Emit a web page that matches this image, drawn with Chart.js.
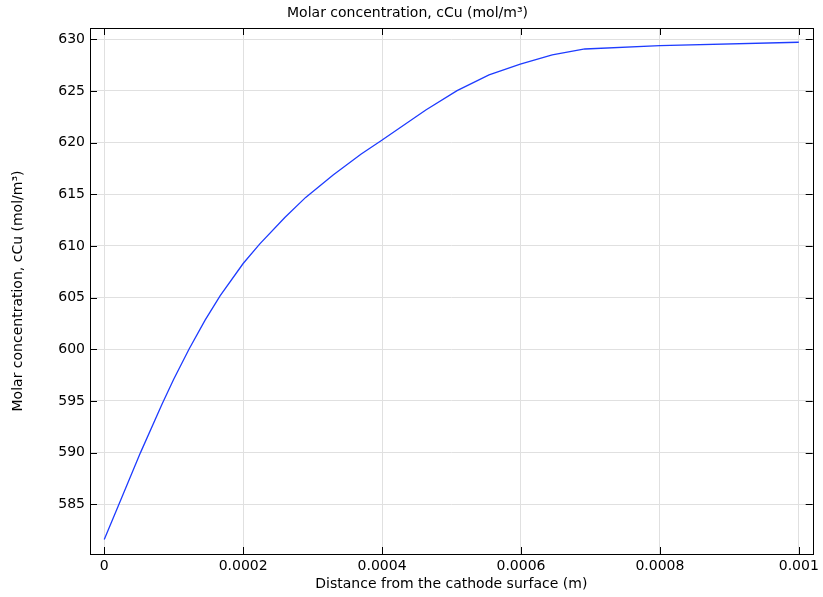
<!DOCTYPE html>
<html>
<head>
<meta charset="utf-8">
<script src="https://cdn.jsdelivr.net/npm/chart.js@4/dist/chart.umd.min.js"></script>
<style>
  html, body { margin: 0; padding: 0; background: #fff; }
</style>
</head>
<body>
<canvas id="chart" width="823" height="597"></canvas>
<script>
Chart.defaults.font.family = "'DejaVu Sans', sans-serif";
Chart.defaults.font.size = 14;
Chart.defaults.color = '#000';

// distance from cathode (m) and copper concentration (mol/m3)
const distance = [0, 0.00002, 0.0000522, 0.0000833, 0.0001, 0.000122, 0.000145, 0.000167, 0.0002, 0.000224,
    0.00026, 0.00029, 0.00033, 0.00037, 0.000398, 0.000463, 0.000508, 0.000554, 0.000599, 0.000645,
    0.000692, 0.0008, 0.001];
const concentration = [581.6, 584.8, 590, 594.7, 597.1, 600, 602.8, 605.2, 608.3, 610.2,
    612.75, 614.7, 616.9, 618.9, 620.15, 623.16, 625.03, 626.55, 627.6, 628.48,
    629.06, 629.38, 629.71];

const xTicks = [0, 0.0002, 0.0004, 0.0006, 0.0008, 0.001];
const xTickLabels = ['0', '0.0002', '0.0004', '0.0006', '0.0008', '0.001'];
const yTicks = [585, 590, 595, 600, 605, 610, 615, 620, 625, 630];

const points = distance.map((d, i) => ({ x: d, y: concentration[i] }));

// inward tick marks on all four sides plus the frame
const frameTicks = {
    id: 'frameTicks',
    afterDraw(chart) {
        const { ctx, chartArea: { left, right, top, bottom }, scales: { x, y } } = chart;
        const len = 7;
        ctx.save();
        ctx.strokeStyle = '#000';
        ctx.lineWidth = 1;
        ctx.beginPath();
        xTicks.forEach(v => {
            const px = Math.round(x.getPixelForValue(v)) + 0.5;
            ctx.moveTo(px, bottom); ctx.lineTo(px, bottom - len);
            ctx.moveTo(px, top); ctx.lineTo(px, top + len);
        });
        yTicks.forEach(v => {
            const py = Math.round(y.getPixelForValue(v)) + 0.5;
            ctx.moveTo(left, py); ctx.lineTo(left + len, py);
            ctx.moveTo(right, py); ctx.lineTo(right - len, py);
        });
        ctx.stroke();
        ctx.strokeRect(Math.round(left) + 0.5, Math.round(top) + 0.5,
            Math.round(right - left), Math.round(bottom - top));
        ctx.restore();
    }
};

new Chart(document.getElementById('chart'), {
    type: 'line',
    data: {
        datasets: [{
            data: points,
            borderColor: 'rgb(30, 60, 255)',
            borderWidth: 1.3,
            pointRadius: 0,
            tension: 0,
            fill: false
        }]
    },
    options: {
        responsive: false,
        animation: false,
        layout: { padding: { left: 0, right: 8, top: 0, bottom: 0 } },
        plugins: {
            legend: { display: false },
            tooltip: { enabled: false },
            title: {
                display: true,
                text: 'Molar concentration, cCu (mol/m³)',
                font: { size: 14, weight: 'normal' },
                padding: { top: 5, bottom: 6.2 }
            }
        },
        scales: {
            x: {
                type: 'linear',
                min: -0.0000205,
                max: 0.00102,
                afterBuildTicks: scale => { scale.ticks = xTicks.map(v => ({ value: v })); },
                afterFit: scale => { scale.height = 43; },
                ticks: {
                    autoSkip: false,
                    maxRotation: 0,
                    padding: 4,
                    callback: (value, index) => xTickLabels[index]
                },
                grid: { color: '#e0e0e0', drawTicks: false },
                border: { display: false },
                title: {
                    display: true,
                    text: 'Distance from the cathode surface (m)',
                    font: { size: 14 },
                    padding: { top: 0, bottom: 4 }
                }
            },
            y: {
                type: 'linear',
                min: 580.19,
                max: 631.09,
                afterBuildTicks: scale => { scale.ticks = yTicks.map(v => ({ value: v })); },
                afterFit: scale => { scale.width = 90; },
                ticks: { padding: 5, callback: value => String(value) },
                grid: { color: '#e0e0e0', drawTicks: false },
                border: { display: false },
                title: {
                    display: true,
                    text: 'Molar concentration, cCu (mol/m³)',
                    font: { size: 14 },
                    padding: { top: 10, bottom: 0 }
                }
            }
        }
    },
    plugins: [frameTicks]
});
</script>
</body>
</html>
